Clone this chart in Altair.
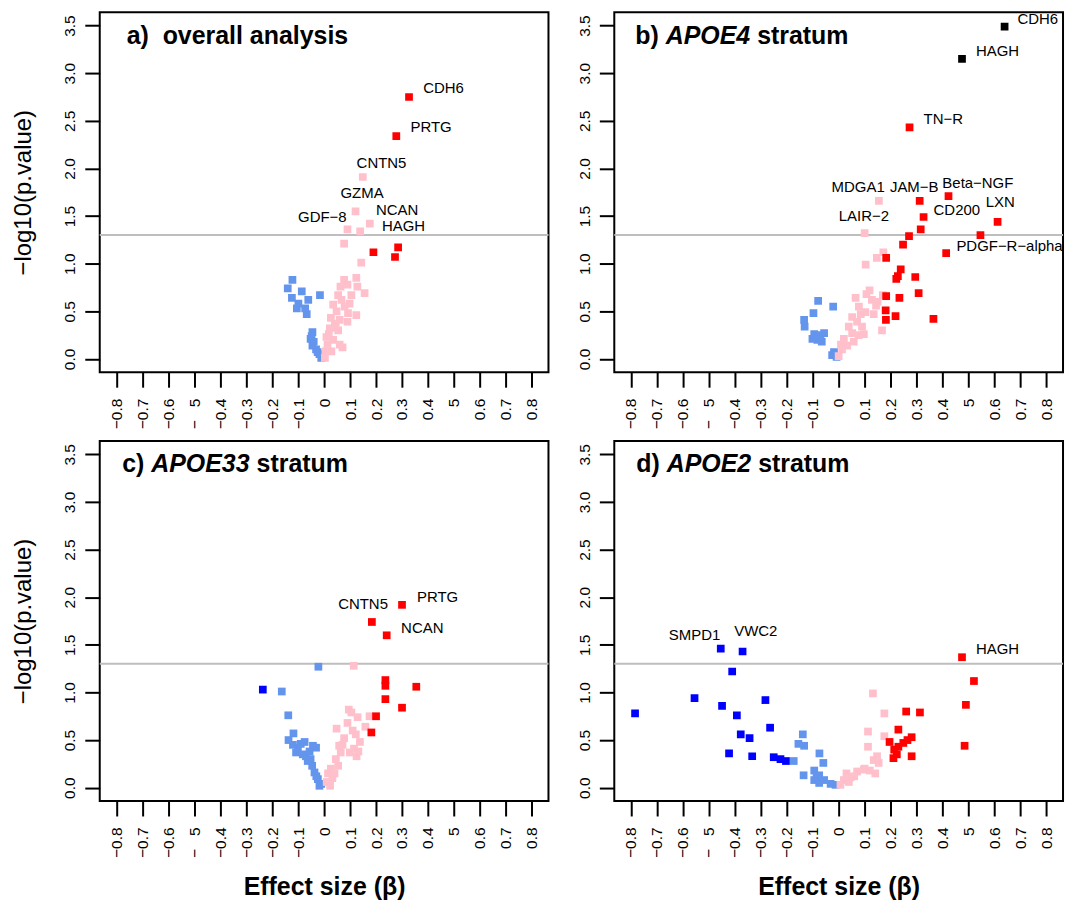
import json
import altair as alt
import pandas as pd

FONT = "Liberation Sans, Arial, Helvetica, sans-serif"

# ---------------- axis ticks ----------------
XTICKS = [-0.8, -0.7, -0.6, -0.5, -0.4, -0.3, -0.2, -0.1, 0, 0.1, 0.2, 0.3, 0.4, 0.5, 0.6, 0.7, 0.8]
XTICK_LABELS = ["−0.8", "−0.7", "−0.6", "−\u00a0\u00a0\u00a05", "−0.4", "−0.3", "−0.2", "−0.1", "0",
                "0.1", "0.2", "0.3", "0.4", "5", "0.6", "0.7", "0.8"]
YTICKS = [0, 0.5, 1.0, 1.5, 2.0, 2.5, 3.0, 3.5]
YTICK_LABELS = ["0.0", "0.5", "1.0", "1.5", "2.0", "2.5", "3.0", "3.5"]
X_DOMAIN = [-0.864, 0.864]
Y_DOMAIN = [-0.14, 3.64]
THRESHOLD = 1.30103  # -log10(0.05)

# ---------------- data: (beta, -log10 p) ----------------
A_CORNFLOWER = [(-0.122, 0.83), (-0.140, 0.74), (-0.086, 0.71), (-0.124, 0.64), (-0.061, 0.62), (-0.099, 0.58),
                (-0.016, 0.67), (-0.105, 0.53), (-0.073, 0.53), (-0.067, 0.47), (-0.045, 0.28), (-0.052, 0.21),
                (-0.045, 0.14), (-0.031, 0.10), (-0.018, 0.05), (-0.011, 0.01), (-0.048, 0.24), (-0.040, 0.18),
                (-0.025, 0.07)]
A_PINK = [(0.149, 1.91), (0.121, 1.55), (0.176, 1.42), (0.090, 1.36), (0.139, 1.34), (0.077, 1.21), (0.143, 1.01),
          (0.077, 0.83), (0.124, 0.85), (0.128, 0.76), (0.063, 0.76), (0.090, 0.78), (0.156, 0.69), (0.054, 0.67),
          (0.105, 0.67), (0.067, 0.62), (0.098, 0.58), (0.035, 0.57), (0.079, 0.55), (0.048, 0.50), (0.092, 0.48),
          (0.124, 0.46), (0.026, 0.43), (0.060, 0.41), (0.041, 0.37), (0.090, 0.39), (0.022, 0.32), (0.054, 0.30),
          (0.009, 0.23), (0.035, 0.20), (0.060, 0.15), (0.013, 0.15), (0.028, 0.08), (0.003, 0.01), (0.005, 0.08),
          (0.071, 0.12), (0.018, 0.26), (0.045, 0.33)]
A_RED = [(0.327, 2.75), (0.278, 2.34), (0.190, 1.12), (0.285, 1.17), (0.273, 1.07)]
A_LABELS = [("CDH6", 0.46, 2.84), ("PRTG", 0.412, 2.43), ("CNTN5", 0.221, 2.06), ("GZMA", 0.146, 1.74),
            ("NCAN", 0.281, 1.56), ("HAGH", 0.306, 1.40), ("GDF−8", -0.007, 1.49)]

B_CORNFLOWER = [(-0.079, 0.61), (-0.097, 0.48), (-0.021, 0.55), (-0.133, 0.41), (-0.131, 0.34), (-0.094, 0.26),
                (-0.075, 0.25), (-0.056, 0.27), (-0.082, 0.20), (-0.065, 0.18), (-0.101, 0.21), (-0.018, 0.07),
                (-0.008, 0.02), (-0.025, 0.04), (-0.070, 0.22), (-0.088, 0.23)]
B_PINK = [(0.155, 1.66), (0.100, 1.32), (0.172, 1.12), (0.147, 1.06), (0.104, 0.99), (0.119, 0.72), (0.107, 0.68),
          (0.065, 0.64), (0.170, 0.67), (0.150, 0.60), (0.078, 0.55), (0.144, 0.56), (0.103, 0.49), (0.135, 0.47),
          (0.052, 0.44), (0.071, 0.39), (0.090, 0.34), (0.167, 0.30), (0.039, 0.34), (0.052, 0.27), (0.097, 0.26),
          (0.020, 0.21), (0.009, 0.15), (0.033, 0.14), (0.013, 0.10), (0.000, 0.03), (0.058, 0.18), (0.077, 0.25),
          (0.128, 0.62), (0.085, 0.47)]
B_RED = [(0.273, 2.43), (0.312, 1.66), (0.423, 1.71), (0.327, 1.49), (0.612, 1.44), (0.316, 1.36), (0.271, 1.29),
         (0.546, 1.30), (0.248, 1.20), (0.414, 1.11), (0.183, 1.06), (0.239, 0.94), (0.228, 0.87), (0.222, 0.84),
         (0.295, 0.86), (0.308, 0.69), (0.183, 0.66), (0.234, 0.64), (0.181, 0.51), (0.182, 0.41), (0.219, 0.45),
         (0.365, 0.42)]
B_BLACK = [(0.639, 3.49), (0.475, 3.15)]
B_LABELS = [("CDH6", 0.767, 3.57), ("HAGH", 0.612, 3.23), ("TN−R", 0.403, 2.52), ("MDGA1", 0.075, 1.81),
            ("JAM−B", 0.291, 1.81), ("Beta−NGF", 0.536, 1.85), ("CD200", 0.455, 1.56), ("LXN", 0.622, 1.65),
            ("LAIR−2", 0.097, 1.50), ("PDGF−R−alpha", 0.658, 1.19)]

C_CORNFLOWER = [(-0.022, 1.27), (-0.163, 1.01), (-0.138, 0.76), (-0.118, 0.57), (-0.137, 0.50), (-0.075, 0.48),
                (-0.101, 0.42), (-0.043, 0.44), (-0.031, 0.42), (-0.082, 0.35), (-0.063, 0.28), (-0.046, 0.23),
                (-0.037, 0.16), (-0.024, 0.09), (-0.011, 0.04), (-0.108, 0.37), (-0.056, 0.38), (-0.120, 0.45),
                (-0.090, 0.46), (-0.070, 0.33), (-0.052, 0.30), (-0.030, 0.12), (-0.018, 0.02)]
C_PINK = [(0.114, 1.28), (0.105, 0.79), (0.129, 0.74), (0.175, 0.75), (0.159, 0.64), (0.048, 0.62), (0.090, 0.68),
          (0.122, 0.56), (0.077, 0.52), (0.138, 0.48), (0.115, 0.41), (0.045, 0.30), (0.064, 0.37), (0.026, 0.20),
          (0.032, 0.10), (0.023, 0.02), (0.054, 0.23), (0.099, 0.37), (0.071, 0.45), (0.132, 0.38), (0.015, 0.15),
          (0.040, 0.15), (0.095, 0.82), (0.110, 0.60), (0.058, 0.44), (0.125, 0.33), (0.010, 0.06)]
C_RED = [(0.300, 1.92), (0.184, 1.74), (0.241, 1.60), (0.236, 1.13), (0.236, 1.07), (0.355, 1.06), (0.236, 0.93),
         (0.300, 0.84), (0.200, 0.75), (0.182, 0.58)]
C_BLUE = [(-0.236, 1.03)]
C_LABELS = [("CNTN5", 0.150, 1.93), ("PRTG", 0.437, 2.00), ("NCAN", 0.378, 1.68)]

D_CORNFLOWER = [(-0.173, 0.28), (-0.138, 0.56), (-0.155, 0.46), (-0.133, 0.44), (-0.074, 0.36), (-0.059, 0.26),
                (-0.135, 0.13), (-0.094, 0.18), (-0.075, 0.13), (-0.094, 0.08), (-0.056, 0.08), (-0.031, 0.04),
                (-0.012, 0.03), (-0.075, 0.05), (-0.085, 0.12)]
D_PINK = [(0.132, 0.99), (0.176, 0.78), (0.113, 0.59), (0.176, 0.54), (0.113, 0.43), (0.148, 0.33), (0.135, 0.29),
          (0.154, 0.26), (0.141, 0.15), (0.097, 0.19), (0.071, 0.17), (0.046, 0.11), (0.020, 0.08), (0.007, 0.03),
          (0.039, 0.06), (0.100, 0.20), (0.030, 0.15), (0.060, 0.12), (0.120, 0.18)]
D_RED = [(0.475, 1.37), (0.521, 1.12), (0.490, 0.87), (0.485, 0.44), (0.260, 0.80), (0.313, 0.79), (0.230, 0.61),
         (0.196, 0.48), (0.214, 0.40), (0.230, 0.43), (0.249, 0.47), (0.265, 0.50), (0.281, 0.53), (0.211, 0.31),
         (0.224, 0.35), (0.281, 0.33)]
D_BLUE = [(-0.784, 0.78), (-0.454, 1.46), (-0.370, 1.43), (-0.410, 1.22), (-0.555, 0.94), (-0.449, 0.86),
          (-0.392, 0.76), (-0.282, 0.92), (-0.264, 0.63), (-0.377, 0.56), (-0.343, 0.52), (-0.422, 0.36),
          (-0.333, 0.33), (-0.250, 0.32), (-0.224, 0.30), (-0.203, 0.28)]
D_LABELS = [("SMPD1", -0.555, 1.60), ("VWC2", -0.319, 1.64), ("HAGH", 0.612, 1.46)]

GROUPS = ["cornflower", "pink", "red", "blue", "black"]
GROUP_COLORS = ["#6495ED", "#FFC0CB", "#FF0000", "#0000FF", "#000000"]

PANELS = {
    "a": {"cornflower": A_CORNFLOWER, "pink": A_PINK, "red": A_RED},
    "b": {"cornflower": B_CORNFLOWER, "pink": B_PINK, "red": B_RED, "black": B_BLACK},
    "c": {"cornflower": C_CORNFLOWER, "pink": C_PINK, "red": C_RED, "blue": C_BLUE},
    "d": {"cornflower": D_CORNFLOWER, "pink": D_PINK, "red": D_RED, "blue": D_BLUE},
}
LABELS = {"a": A_LABELS, "b": B_LABELS, "c": C_LABELS, "d": D_LABELS}
# title pieces: (text, fontStyle)
TITLES = {
    "a": [("a)\u00a0\u00a0overall analysis", "normal")],
    "b": [("b) ", "normal"), ("APOE4", "italic"), (" stratum", "normal")],
    "c": [("c) ", "normal"), ("APOE33", "italic"), (" stratum", "normal")],
    "d": [("d) ", "normal"), ("APOE2", "italic"), (" stratum", "normal")],
}
TITLE_X = {"a": 27.0, "b": 21.0, "c": 22.5, "d": 22.0}

# Liberation Sans Bold / Bold Italic advance widths (per 1000 em)
ADV = {"a": 556, "b": 611, "c": 556, "d": 611, ")": 333, " ": 278, "s": 556, "t": 333, "r": 389,
       "u": 611, "m": 889, "A": 722, "P": 667, "O": 778, "E": 667, "2": 556, "3": 556, "4": 556}
TITLE_SIZE = 25


def text_width(s, size):
    return sum(ADV.get(ch, 556) for ch in s) * size / 1000.0


W, H = 450, 361


def x_enc(show_title):
    ticks10 = [round(v * 10) for v in XTICKS]
    expr = (json.dumps(XTICK_LABELS, ensure_ascii=False) + "[indexof(" + json.dumps(ticks10) +
            ", round(datum.value*10))]")
    ax = alt.Axis(values=XTICKS, labelExpr=expr, labelAngle=270, labelAlign="right", labelBaseline="middle",
                  labelPadding=11, labelFlush=False, labelOverlap=False, labelFontSize=15.5,
                  title="Effect size (β)" if show_title else None, titleFontSize=25,
                  titleFontWeight="bold", titlePadding=17)
    return alt.X("beta:Q", scale=alt.Scale(domain=X_DOMAIN, nice=False, zero=False), axis=ax)


def y_enc(show_title):
    ticks10 = [round(v * 10) for v in YTICKS]
    expr = (json.dumps(YTICK_LABELS) + "[indexof(" + json.dumps(ticks10) + ", round(datum.value*10))]")
    ax = alt.Axis(values=YTICKS, labelExpr=expr, labelAngle=270, labelAlign="center",
                  labelBaseline="alphabetic", labelPadding=10, labelFlush=False, labelOverlap=False,
                  labelFontSize=15.5, title="−log10(p.value)" if show_title else None, titleFontSize=24,
                  titleFontWeight="normal", titlePadding=27)
    return alt.Y("p:Q", scale=alt.Scale(domain=Y_DOMAIN, nice=False, zero=False), axis=ax)


def panel(key, show_x_title, show_y_title):
    rows = []
    for grp in GROUPS:
        for b, p in PANELS[key].get(grp, []):
            rows.append({"beta": b, "p": p, "grp": grp})
    pts = pd.DataFrame(rows)
    lab = pd.DataFrame([{"label": t, "beta": b, "p": p} for t, b, p in LABELS[key]])
    thr = pd.DataFrame({"p": [THRESHOLD]})

    X = x_enc(show_x_title)
    Y = y_enc(show_y_title)

    rule = alt.Chart(thr).mark_rule(color="#BEBEBE", strokeWidth=2).encode(y=Y)
    points = alt.Chart(pts).mark_square(size=60, opacity=1, clip=True).encode(
        x=X, y=Y,
        color=alt.Color("grp:N", scale=alt.Scale(domain=GROUPS, range=GROUP_COLORS), legend=None),
    )
    labels = alt.Chart(lab).mark_text(font=FONT, fontSize=15, color="black", align="center",
                                      baseline="middle", clip=True).encode(x=X, y=Y, text="label:N")
    layers = [rule, points, labels]

    x0 = TITLE_X[key]
    for txt, style in TITLES[key]:
        shown = txt.strip(" ")
        lead = len(txt) - len(txt.lstrip(" "))
        xpos = x0 + text_width(" " * lead, TITLE_SIZE)
        t = alt.Chart(pd.DataFrame({"t": [shown]})).mark_text(
            font=FONT, fontSize=TITLE_SIZE, fontWeight="bold", fontStyle=style, color="black",
            align="left", baseline="alphabetic").encode(x=alt.value(xpos), y=alt.value(31.5), text="t:N")
        layers.append(t)
        x0 += text_width(txt, TITLE_SIZE)

    return alt.layer(*layers).properties(width=W, height=H)


chart = alt.concat(
    panel("a", False, True), panel("b", False, False),
    panel("c", True, True), panel("d", True, False),
    columns=2, spacing={"row": 69, "column": 66}, bounds="flush",
).properties(
    padding={"left": 2, "top": 2, "right": 5, "bottom": 0},
    background="white",
).configure_view(
    stroke="black", strokeWidth=2
).configure_axis(
    domain=False, grid=False, ticks=True, tickColor="black", tickWidth=2, tickSize=15,
    labelFont=FONT, labelColor="black", titleFont=FONT, titleColor="black"
)

chart.save("out.html", embed_options={"renderer": "svg", "actions": False})
